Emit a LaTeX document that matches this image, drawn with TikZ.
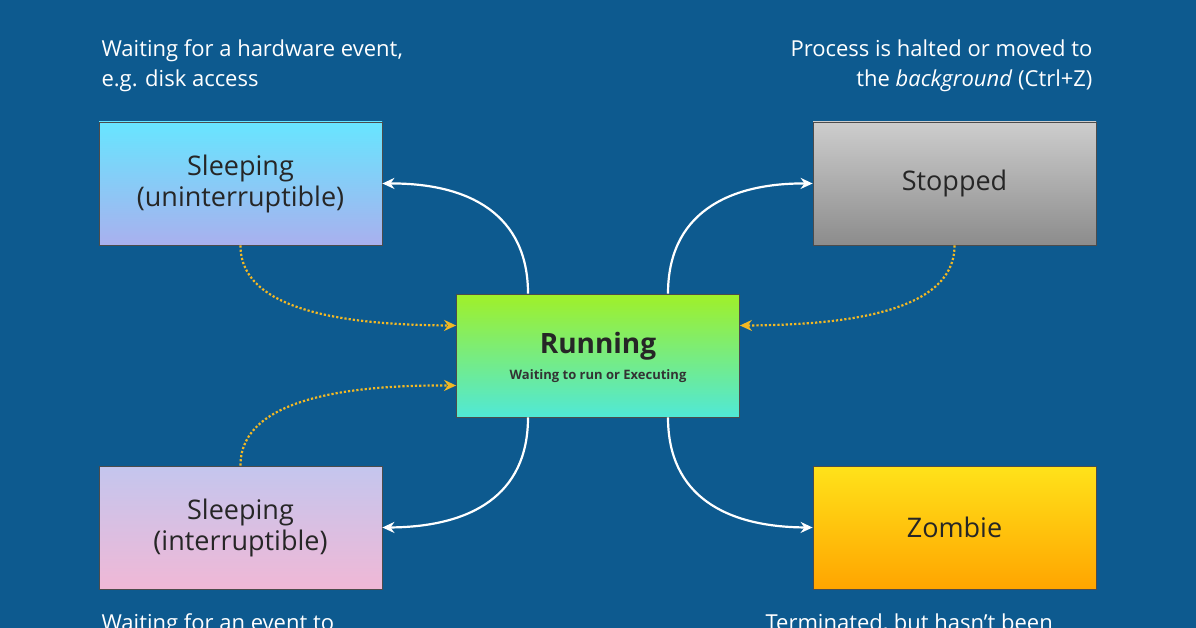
\documentclass[tikz,border=0pt]{standalone}
\usepackage{fontspec}
\setmainfont{Open Sans}
\usetikzlibrary{arrows.meta}
\definecolor{bg}{HTML}{0D5A8F}
\definecolor{dotc}{HTML}{F2B824}
\begin{document}
\begin{tikzpicture}[x=1pt,y=-1pt,
    state/.style={draw=black!70,line width=0.8pt,minimum width=283pt,minimum height=123pt,
      align=center,font=\fontsize{27}{31}\selectfont,text=black!85},
    note/.style={font=\fontsize{22}{30}\selectfont,text=white},
    move/.style={draw=white,line width=2.2pt,-{Stealth[length=12pt,width=11pt]}},
    back/.style={draw=dotc,line width=2.2pt,dotted,-{Stealth[length=12pt,width=11pt]}}]
    \fill[bg] (0,0) rectangle (1196,628);
    \clip (0,0) rectangle (1196,628);
    \node[state,top color=cyan!55!white!90!blue,bottom color={rgb,255:red,169;green,176;blue,238}] (sleepu) at (240.5,183.5) {Sleeping\\(uninterruptible)};
    \node[state,top color={rgb,255:red,205;green,205;blue,205},bottom color={rgb,255:red,140;green,140;blue,140}] (stop) at (954.5,183.5) {Stopped};
    \node[state,top color={rgb,255:red,160;green,240;blue,40},bottom color={rgb,255:red,80;green,232;blue,215}] (run) at (598,355.5) {};
    \node[font=\fontsize{28}{30}\selectfont\bfseries,text=black!85] (runt) at (598,346) {Running};
    \node[font=\fontsize{13}{15}\selectfont\bfseries,text=black!80] (runs) at (598,376) {Waiting to run or Executing};
    \node[state,top color={rgb,255:red,196;green,198;blue,238},bottom color={rgb,255:red,240;green,184;blue,214}] (sleepi) at (240.5,527.5) {Sleeping\\(interruptible)};
    \node[state,top color={rgb,255:red,255;green,226;blue,26},bottom color={rgb,255:red,255;green,165;blue,0}] (zomb) at (954.5,527.5) {Zombie};
    \node[note,anchor=north west,align=left] (nul) at (98,36) {Waiting for a hardware event,\\e.g. disk access};
    \node[note,anchor=north east,align=right] (nur) at (1096,36) {Process is halted or moved to\\the \emph{background} (Ctrl+Z)};
    \node[note,anchor=north west,align=left] (nbl) at (98,610) {Waiting for an event to};
    \node[note,anchor=north west,align=left] (nbr) at (762,610) {Terminated, but hasn't been};
    \draw[move] ([xshift=-70pt]run.north) .. controls (528,215) and (470,183) .. (sleepu.east);
    \draw[move] ([xshift=70pt]run.north) .. controls (668,215) and (726,183) .. (stop.west);
    \draw[move] ([xshift=-70pt]run.south) .. controls (528,496) and (470,527) .. (sleepi.east);
    \draw[move] ([xshift=70pt]run.south) .. controls (668,496) and (726,527) .. (zomb.west);
    \draw[back] (sleepu.south) .. controls (240,315) and (360,325) .. ([yshift=30pt]run.west);
    \draw[back] (stop.south) .. controls (955,315) and (835,325) .. ([yshift=30pt]run.east);
    \draw[back] (sleepi.north) .. controls (240,395) and (360,385) .. ([yshift=-30pt]run.west);
\end{tikzpicture}
\end{document}
